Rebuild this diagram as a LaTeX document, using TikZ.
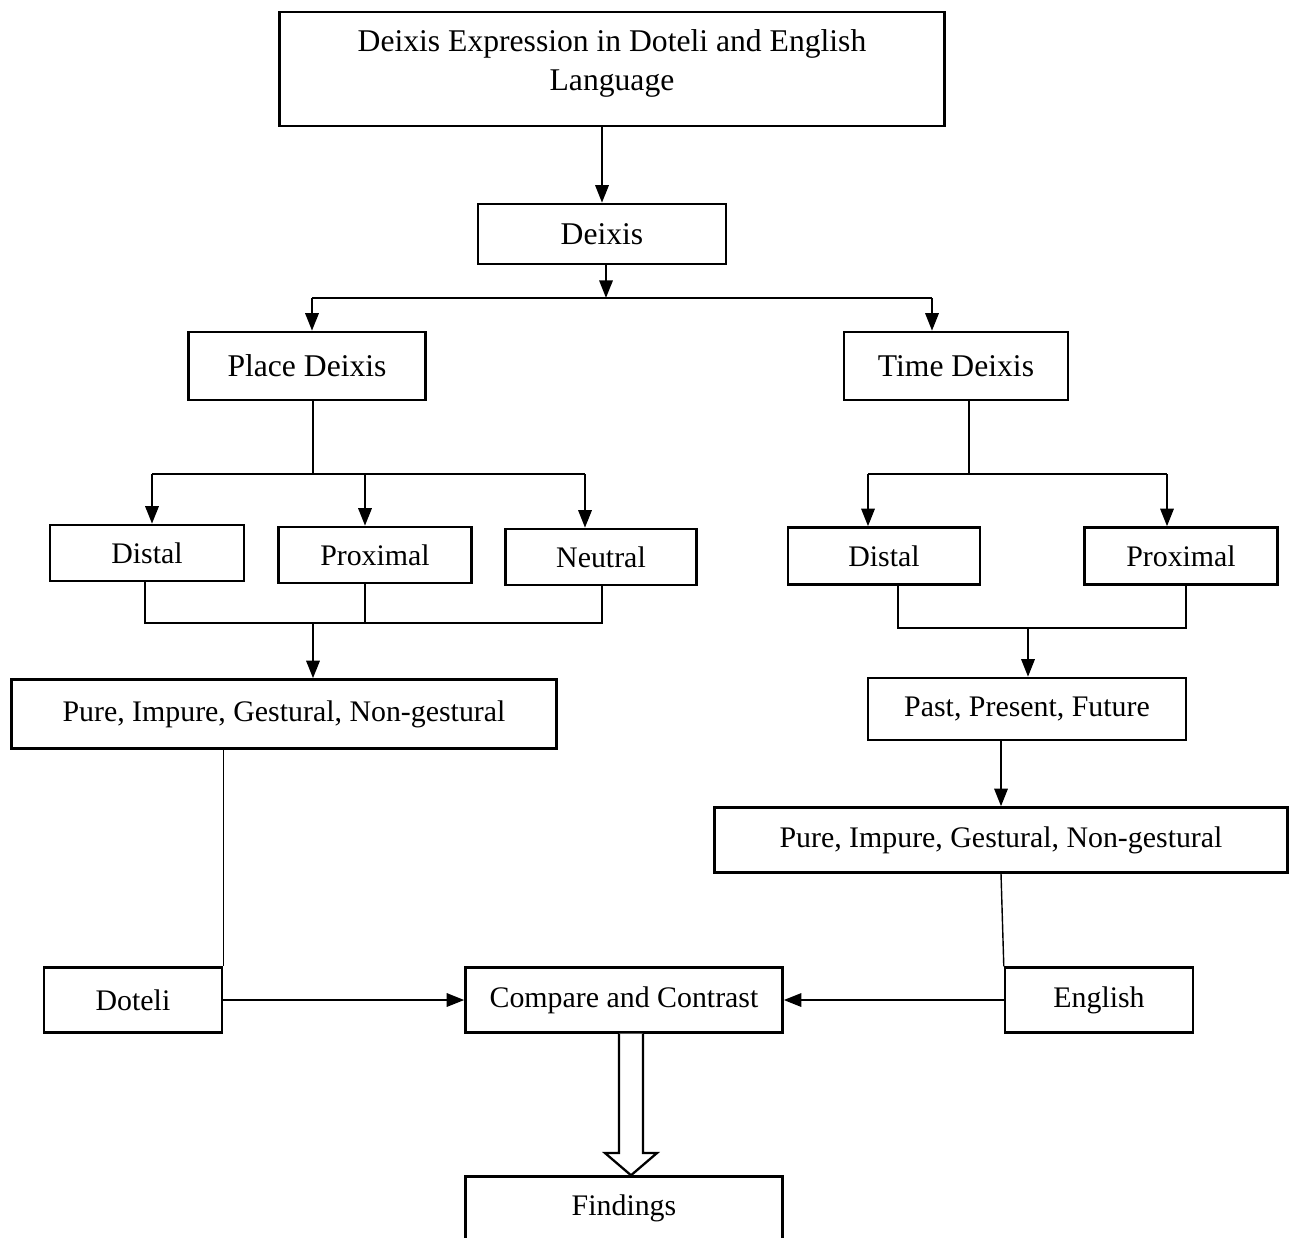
\documentclass[tikz,border=0pt]{standalone}
\usepackage{fontspec}
\setmainfont{Liberation Serif}
\usetikzlibrary{arrows.meta,calc}

\begin{document}
\begin{tikzpicture}[
  x=0.02cm, y=-0.02cm,
  every node/.style={font=\fontsize{17}{21}\selectfont},
  block/.style={draw, line width=1.4pt, inner sep=0pt, align=center},
  big/.style={font=\fontsize{18}{22}\selectfont},
  arr/.style={-{Triangle[length=10pt,width=7.5pt]}, line width=1.5pt},
  link/.style={line width=0.8pt},
  hollow/.style={line width=1.3pt, fill=white}
]
\useasboundingbox (0,0) rectangle (1293,1237);
\clip (0,0) rectangle (1293,1237);

% top of the tree
\node[block, big, minimum width=13.3cm, minimum height=2.28cm] (title) at (612,69) {Deixis Expression in Doteli and English\\Language\vphantom{\rule{0pt}{0pt}}\\[-12pt]};
\node[block, big, minimum width=4.96cm, minimum height=1.2cm] (deixis) at (602,234) {Deixis};
\node[block, big, minimum width=4.74cm, minimum height=1.36cm] (place) at (307,366) {Place Deixis};
\node[block, big, minimum width=4.48cm, minimum height=1.36cm] (time) at (956,366) {Time Deixis};

% place side
\node[block, minimum width=3.88cm, minimum height=1.12cm] (pdistal) at (147,553) {Distal};
\node[block, minimum width=3.86cm, minimum height=1.12cm] (pproximal) at (375,555) {Proximal};
\node[block, minimum width=3.82cm, minimum height=1.12cm] (pneutral) at (601,557) {Neutral};
\node[block, minimum width=10.9cm, minimum height=1.38cm] (pkinds) at (284,714) {Pure, Impure, Gestural, Non-gestural};

% time side
\node[block, minimum width=3.84cm, minimum height=1.14cm] (tdistal) at (884,556) {Distal};
\node[block, minimum width=3.86cm, minimum height=1.14cm] (tproximal) at (1181,556) {Proximal};
\node[block, minimum width=6.36cm, minimum height=1.24cm] (tpast) at (1027,709) {Past, Present, Future};
\node[block, minimum width=11.46cm, minimum height=1.3cm] (tkinds) at (1001,840) {Pure, Impure, Gestural, Non-gestural};

% bottom row
\node[block, minimum width=3.56cm, minimum height=1.3cm] (doteli) at (133,1000) {Doteli};
\node[block, minimum width=6.34cm, minimum height=1.3cm] (compare) at (624,1000) {Compare and Contrast};
\node[block, minimum width=3.76cm, minimum height=1.3cm] (english) at (1099,1000) {English};
\node[block, minimum width=6.34cm, minimum height=1.26cm] (findings) at (624,1208) {Findings};

% junction points
\coordinate (split) at (606,298);
\coordinate (pdrop) at (312,298);
\coordinate (tdrop) at (932,298);
\coordinate (pfork) at (313,474);
\coordinate (pa) at (152,474);
\coordinate (pb) at (365,474);
\coordinate (pc) at (585,474);
\coordinate (pjl) at (145,623);
\coordinate (pjm) at (365,623);
\coordinate (pjr) at (602,623);
\coordinate (tfork) at (969,474);
\coordinate (ta) at (868,474);
\coordinate (tb) at (1167,474);
\coordinate (tjl) at (898,628);
\coordinate (tjr) at (1186,628);
\coordinate (tjoin) at (1028,628);
\coordinate (fa) at (631,1153);

\draw[arr] (title.south -| deixis) -- (deixis);
\draw[arr] (deixis.south -| split) -- (split);
\draw[link] (pdrop) -- (tdrop);
\draw[arr] (pdrop) -- (pdrop |- place.north);
\draw[arr] (tdrop) -- (tdrop |- time.north);

% place branch
\draw[link] (pfork |- place.south) -- (pfork);
\draw[link] (pa) -- (pc);
\foreach \c/\n in {pa/pdistal, pb/pproximal, pc/pneutral}
  \draw[arr] (\c) -- (\c |- \n.north);
\draw[link] (pdistal.south -| pjl) -- (pjl) -- (pjr) -- (pneutral.south -| pjr);
\draw[link] (pproximal.south -| pjm) -- (pjm);
\draw[arr] (pfork |- pjl) -- (pfork |- pkinds.north);
\draw[link] (doteli.north east |- pkinds.south) -- (doteli.north east);

% time branch
\draw[link] (tfork |- time.south) -- (tfork);
\draw[link] (ta) -- (tb);
\draw[arr] (ta) -- (ta |- tdistal.north);
\draw[arr] (tb) -- (tb |- tproximal.north);
\draw[link] (tdistal.south -| tjl) -- (tjl) -- (tjr) -- (tproximal.south -| tjr);
\draw[arr] (tjoin) -- (tjoin |- tpast.north);
\draw[arr] (tkinds.north |- tpast.south) -- (tkinds.north);
\draw[link] (tkinds.south) -- (english.north west);

% comparison
\draw[arr] (doteli) -- (compare);
\draw[arr] (english) -- (compare);
\draw[hollow] ($(fa |- compare.south)+(-12,0)$) -- ($(fa)+(-12,0)$) -- ($(fa)+(-26,0)$)
  -- (fa |- findings.north) -- ($(fa)+(26,0)$) -- ($(fa)+(12,0)$) -- ($(fa |- compare.south)+(12,0)$);
\end{tikzpicture}
\end{document}
